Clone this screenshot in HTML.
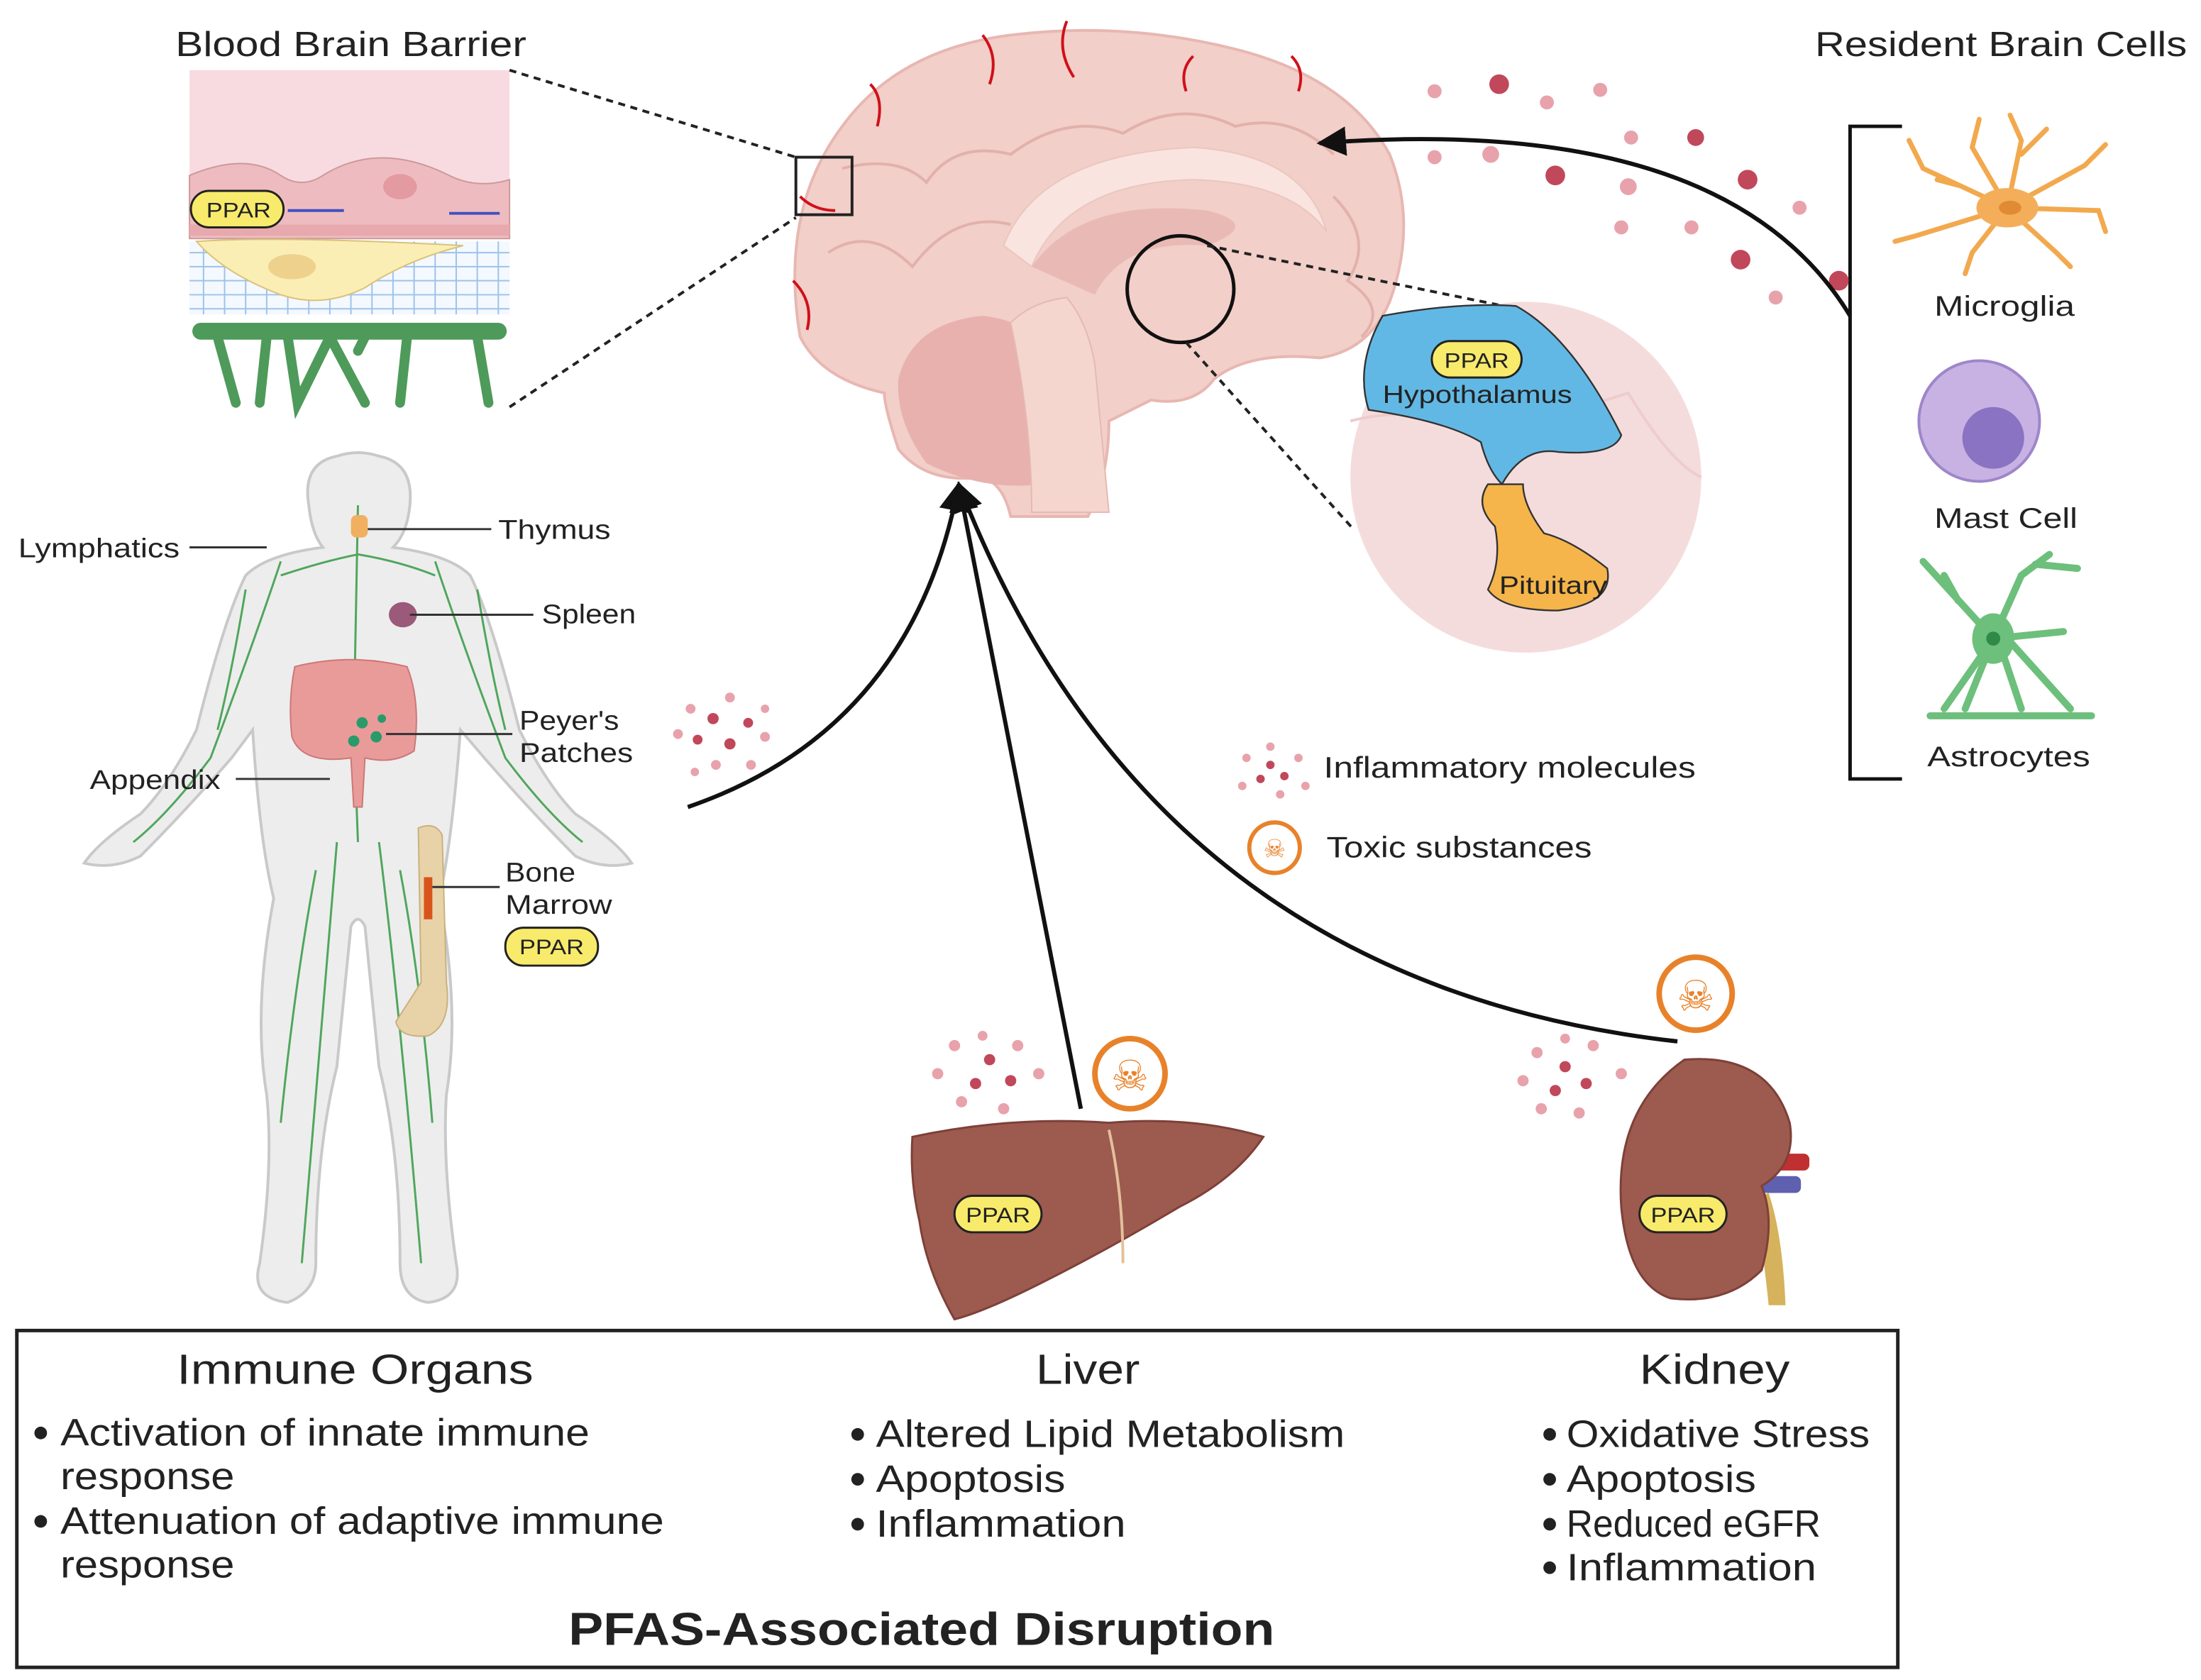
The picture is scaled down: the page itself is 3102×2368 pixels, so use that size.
<!DOCTYPE html>
<html><head><meta charset="utf-8"><style>
html,body{margin:0;padding:0;background:#fff}
svg{display:block}
text{font-family:"Liberation Sans",sans-serif;fill:#222}
</style></head><body>
<svg width="3102" height="2368" viewBox="0 0 1568 1197" preserveAspectRatio="none" xmlns="http://www.w3.org/2000/svg">
<defs>
<marker id="ah" viewBox="0 0 10 10" refX="9" refY="5" markerWidth="7" markerHeight="7" orient="auto"><path d="M0,0 L10,5 L0,10 z" fill="#111"/></marker>
</defs>

<!-- BBB -->
<text x="125" y="40" font-size="25" textLength="250" lengthAdjust="spacingAndGlyphs">Blood Brain Barrier</text>
<rect x="135" y="50" width="228" height="120" fill="#f8dbe1"/>
<path d="M135,170 L135,125 Q175,108 200,125 Q215,135 230,125 Q270,100 320,125 Q340,135 363,128 L363,170 Z" fill="#eebcc0" stroke="#c99" stroke-width="1"/>
<ellipse cx="285" cy="133" rx="12" ry="9" fill="#e39aa0"/>
<rect x="135" y="160" width="228" height="8" fill="#e7a9ad"/>
<rect x="135" y="172" width="228" height="52" fill="#f4f8ff"/>
<g stroke="#9cc3ea" stroke-width="1">
<path d="M135,180H363M135,190H363M135,200H363M135,210H363M135,220H363"/>
<path d="M145,172V224M160,172V224M175,172V224M190,172V224M205,172V224M220,172V224M235,172V224M250,172V224M265,172V224M280,172V224M295,172V224M310,172V224M325,172V224M340,172V224M355,172V224"/>
</g>
<path d="M140,172 Q200,168 330,175 Q290,185 260,205 Q230,220 200,210 Q160,195 140,172Z" fill="#fbeeb5" stroke="#d9c27a"/>
<ellipse cx="208" cy="190" rx="17" ry="9" fill="#efd18e"/>
<rect x="136" y="136" width="66" height="26" rx="13" fill="#f8eb6c" stroke="#222" stroke-width="1.5"/>
<text x="147" y="155" font-size="15" textLength="46" lengthAdjust="spacingAndGlyphs">PPAR</text>
<g stroke="#4050c0" stroke-width="2"><path d="M205,150H245M320,152H356"/></g>
<g fill="#4e9a5a"><rect x="137" y="230" width="224" height="12" rx="6"/></g>
<g stroke="#4e9a5a" stroke-width="7" fill="none" stroke-linecap="round">
<path d="M155,240 L168,287"/><path d="M190,240 L185,287"/><path d="M205,240 L212,287 L235,240"/><path d="M235,240 L260,287"/><path d="M290,240 L285,287"/><path d="M340,240 L348,287"/><path d="M260,240 L255,250"/>
</g>
<line x1="363" y1="50" x2="567" y2="112" stroke="#222" stroke-width="2" stroke-dasharray="5,4"/>
<line x1="363" y1="290" x2="567" y2="155" stroke="#222" stroke-width="2" stroke-dasharray="5,4"/>

<!-- Brain -->
<path d="M570,240 Q555,150 600,90 Q640,35 720,25 Q800,15 880,35 Q960,55 990,110 Q1010,160 990,215 Q975,250 940,255 Q890,250 865,270 Q850,290 820,285 L790,300 Q790,340 775,368 L720,368 Q715,345 700,340 Q660,345 640,320 Q630,290 630,280 Q585,270 570,240Z" fill="#f2cfc8" stroke="#e8b7b2" stroke-width="2"/>
<path d="M640,270 Q650,230 700,225 Q745,230 760,270 Q765,320 740,345 Q700,350 660,330 Q638,300 640,270Z" fill="#e8b1ae"/>
<path d="M720,230 Q735,215 760,212 Q775,230 780,260 L790,365 L735,365 Q735,300 720,230Z" fill="#f4d6cf" stroke="#e5b9b3"/>
<path d="M715,175 Q740,110 850,105 Q930,110 945,165 Q920,130 850,128 Q760,130 735,190Z" fill="#f9e4df" stroke="#ebc6bf"/>
<path d="M735,190 Q770,140 860,150 Q900,160 860,175 Q800,170 780,210Z" fill="#e9bab5"/>
<g fill="none" stroke="#e2b1ab" stroke-width="2">
<path d="M600,120 Q640,110 660,130 Q680,100 720,110 Q760,80 800,95 Q840,70 880,90 Q920,80 950,110"/>
<path d="M590,180 Q620,160 650,190 Q680,150 720,160"/>
<path d="M950,140 Q980,170 960,200 Q990,220 970,240"/>
</g>
<g fill="none" stroke="#d0101a" stroke-width="2">
<path d="M700,25 Q712,40 705,60"/><path d="M760,15 Q752,35 765,55"/><path d="M920,40 Q930,50 925,65"/><path d="M850,40 Q840,50 845,65"/><path d="M620,60 Q630,70 625,90"/><path d="M570,140 Q580,150 595,150"/><path d="M565,200 Q580,215 575,235"/>
</g>
<rect x="567" y="112" width="40" height="41" fill="none" stroke="#222" stroke-width="2"/>
<circle cx="841" cy="206" r="38" fill="none" stroke="#111" stroke-width="2.5"/>
<line x1="860" y1="175" x2="1140" y2="232" stroke="#222" stroke-width="2" stroke-dasharray="5,4"/>
<line x1="845" y1="244" x2="965" y2="378" stroke="#222" stroke-width="2" stroke-dasharray="5,4"/>

<!-- hypothalamus inset -->
<circle cx="1087" cy="340" r="125" fill="#f5dcdc"/>
<path d="M962,300 Q1000,290 1050,300 Q1100,300 1160,280 Q1190,330 1212,340" fill="none" stroke="#ecc" stroke-width="2"/>
<path d="M985,225 Q1040,215 1080,218 Q1120,240 1155,310 Q1150,325 1110,322 Q1085,318 1070,345 Q1060,335 1055,315 Q1030,300 975,292 Q965,260 985,225Z" fill="#62b8e4" stroke="#333" stroke-width="1.2"/>
<path d="M1060,345 Q1050,360 1065,375 Q1070,400 1060,420 Q1070,435 1110,435 Q1150,430 1145,405 Q1120,385 1100,380 Q1085,360 1085,345Z" fill="#f5b54a" stroke="#333" stroke-width="1.2"/>
<rect x="1020" y="243" width="64" height="26" rx="13" fill="#f8eb6c" stroke="#222" stroke-width="1.5"/>
<text x="1029" y="262" font-size="15" textLength="46" lengthAdjust="spacingAndGlyphs">PPAR</text>
<text x="985" y="287" font-size="18" textLength="135" lengthAdjust="spacingAndGlyphs">Hypothalamus</text>
<text x="1068" y="423" font-size="18" textLength="77" lengthAdjust="spacingAndGlyphs">Pituitary</text>

<!-- Resident Brain Cells -->
<text x="1293" y="40" font-size="25" textLength="265" lengthAdjust="spacingAndGlyphs">Resident Brain Cells</text>
<path d="M1355,90 H1318 V555 H1355" fill="none" stroke="#111" stroke-width="2.5"/>
<g stroke="#f2a94e" stroke-width="3.5" fill="none" stroke-linecap="round">
<path d="M1430,148 L1370,120 L1360,100 M1395,132 L1380,128 M1430,148 L1405,105 L1410,85 M1430,148 L1440,100 L1432,82 M1440,110 L1458,92 M1430,148 L1485,118 L1500,103 M1430,148 L1495,150 L1500,165 M1430,148 L1465,180 L1475,190 M1430,148 L1405,180 L1400,195 M1430,148 L1365,168 L1350,172"/>
</g>
<ellipse cx="1430" cy="148" rx="22" ry="14" fill="#f4ae5a"/>
<ellipse cx="1432" cy="148" rx="8" ry="5" fill="#e08a35"/>
<text x="1378" y="225" font-size="20" textLength="100" lengthAdjust="spacingAndGlyphs">Microglia</text>
<circle cx="1410" cy="300" r="43" fill="#c8b2e3" stroke="#9e86c9" stroke-width="2"/>
<circle cx="1420" cy="312" r="22" fill="#8a73c2"/>
<text x="1378" y="376" font-size="20" textLength="102" lengthAdjust="spacingAndGlyphs">Mast Cell</text>
<g stroke="#6dbf7c" stroke-width="5" fill="none" stroke-linecap="round">
<path d="M1420,455 L1370,400 M1395,428 L1385,410 M1420,455 L1440,410 L1460,395 M1450,402 L1480,405 M1420,455 L1385,505 M1420,455 L1400,505 M1425,460 L1440,505 M1430,455 L1475,505 M1420,455 L1470,450"/>
<path d="M1375,510 H1490" stroke-width="5"/>
</g>
<ellipse cx="1420" cy="455" rx="15" ry="18" fill="#6dbf7c"/>
<circle cx="1420" cy="455" r="5" fill="#2f8a49"/>
<text x="1373" y="546" font-size="20" textLength="116" lengthAdjust="spacingAndGlyphs">Astrocytes</text>

<!-- dots trail -->
<g fill="#c0485a">
<circle cx="1068" cy="60" r="7"/><circle cx="1108" cy="125" r="7"/><circle cx="1245" cy="128" r="7"/><circle cx="1240" cy="185" r="7"/><circle cx="1208" cy="98" r="6"/><circle cx="1310" cy="200" r="7"/>
</g>
<g fill="#e8a2ab">
<circle cx="1022" cy="65" r="5"/><circle cx="1102" cy="73" r="5"/><circle cx="1140" cy="64" r="5"/><circle cx="1062" cy="110" r="6"/><circle cx="1160" cy="133" r="6"/><circle cx="1162" cy="98" r="5"/><circle cx="1022" cy="112" r="5"/><circle cx="1205" cy="162" r="5"/><circle cx="1265" cy="212" r="5"/><circle cx="1282" cy="148" r="5"/><circle cx="1155" cy="162" r="5"/>
</g>
<path d="M1318,225 Q1230,80 940,102" fill="none" stroke="#111" stroke-width="3" marker-end="url(#ah)"/>

<!-- Body -->
<path d="M240,325 Q215,330 220,360 Q222,380 230,390 Q190,395 175,410 Q160,440 140,520 Q120,560 100,580 Q70,600 60,615 Q80,620 100,610 Q130,580 165,540 L180,520 Q185,600 195,640 Q180,720 190,780 Q195,830 185,900 Q178,925 205,928 Q225,920 225,900 Q225,820 240,760 L250,660 Q255,650 260,660 L270,760 Q285,820 285,900 Q285,925 305,928 Q330,925 325,900 Q315,830 318,780 Q328,720 313,640 Q322,600 328,520 L345,540 Q380,580 410,610 Q430,620 450,615 Q440,600 410,580 Q390,560 370,520 Q350,440 335,410 Q320,395 280,390 Q290,380 292,360 Q295,330 270,325 Q255,320 240,325Z" fill="#ededed" stroke="#c9c9c9" stroke-width="2"/>
<g fill="none" stroke="#3f9f4d" stroke-width="1.5" opacity="0.9">
<path d="M255,360 L252,520 L255,600"/><path d="M200,400 Q180,460 150,540 Q120,580 95,600"/><path d="M310,400 Q330,460 360,540 Q390,580 415,600"/><path d="M240,600 Q230,720 215,900"/><path d="M270,600 Q285,720 300,900"/><path d="M200,410 Q230,400 255,395 Q285,400 310,410"/><path d="M225,620 Q210,700 200,800"/><path d="M285,620 Q300,700 308,800"/><path d="M175,420 Q165,480 155,520"/><path d="M340,420 Q350,480 360,520"/>
</g>
<rect x="250" y="367" width="12" height="16" rx="4" fill="#f0b060"/>
<ellipse cx="287" cy="438" rx="10" ry="9" fill="#9b5a7a"/>
<path d="M210,475 Q250,465 290,475 Q300,500 295,535 Q280,545 260,540 L258,575 L252,575 L250,540 Q215,545 208,525 Q205,500 210,475Z" fill="#e99b9a" stroke="#c77" stroke-width="1"/>
<g fill="#2a9a6a"><circle cx="258" cy="515" r="4"/><circle cx="268" cy="525" r="4"/><circle cx="252" cy="528" r="4"/><circle cx="272" cy="512" r="3"/></g>
<path d="M298,590 Q310,585 315,595 L318,700 Q322,730 305,738 Q285,740 282,728 L300,700 Z" fill="#e8d3a8" stroke="#c9b07e"/>
<rect x="302" y="625" width="6" height="30" fill="#d9541c"/>
<g stroke="#333" stroke-width="1.5">
<line x1="135" y1="390" x2="190" y2="390"/><line x1="262" y1="377" x2="350" y2="377"/><line x1="292" y1="438" x2="380" y2="438"/><line x1="275" y1="523" x2="365" y2="523"/><line x1="168" y1="555" x2="235" y2="555"/><line x1="308" y1="632" x2="356" y2="632"/>
</g>
<g font-size="19">
<text x="13" y="397" textLength="115" lengthAdjust="spacingAndGlyphs">Lymphatics</text>
<text x="355" y="384" textLength="80" lengthAdjust="spacingAndGlyphs">Thymus</text>
<text x="386" y="444" textLength="67" lengthAdjust="spacingAndGlyphs">Spleen</text>
<text x="370" y="520" textLength="71" lengthAdjust="spacingAndGlyphs">Peyer's</text>
<text x="370" y="543" textLength="81" lengthAdjust="spacingAndGlyphs">Patches</text>
<text x="64" y="562" textLength="93" lengthAdjust="spacingAndGlyphs">Appendix</text>
<text x="360" y="628" textLength="50" lengthAdjust="spacingAndGlyphs">Bone</text>
<text x="360" y="651" textLength="76" lengthAdjust="spacingAndGlyphs">Marrow</text>
</g>
<rect x="360" y="661" width="66" height="27" rx="13" fill="#f8eb6c" stroke="#222" stroke-width="1.5"/>
<text x="370" y="680" font-size="15" textLength="46" lengthAdjust="spacingAndGlyphs">PPAR</text>

<!-- dots near body arrow -->
<g fill="#c0485a"><circle cx="508" cy="512" r="4"/><circle cx="520" cy="530" r="4"/><circle cx="497" cy="527" r="3.5"/><circle cx="533" cy="515" r="3.5"/></g>
<g fill="#e8a2ab"><circle cx="492" cy="505" r="3.5"/><circle cx="520" cy="497" r="3.5"/><circle cx="545" cy="525" r="3.5"/><circle cx="483" cy="523" r="3.5"/><circle cx="510" cy="545" r="3.5"/><circle cx="535" cy="545" r="3.5"/><circle cx="495" cy="550" r="3"/><circle cx="545" cy="505" r="3"/></g>

<!-- Arrows to brain -->
<path d="M490,575 Q650,520 683,345" fill="none" stroke="#111" stroke-width="3" marker-end="url(#ah)"/>
<path d="M770,790 L683,345" fill="none" stroke="#111" stroke-width="3" marker-end="url(#ah)"/>
<path d="M1195,742 Q820,700 683,345" fill="none" stroke="#111" stroke-width="3" marker-end="url(#ah)"/>

<!-- Legend -->
<g fill="#c0485a"><circle cx="905" cy="545" r="3"/><circle cx="915" cy="553" r="3"/><circle cx="898" cy="555" r="3"/></g>
<g fill="#e8a2ab"><circle cx="888" cy="540" r="3"/><circle cx="925" cy="540" r="3"/><circle cx="885" cy="560" r="3"/><circle cx="930" cy="560" r="3"/><circle cx="905" cy="532" r="3"/><circle cx="912" cy="566" r="3"/></g>
<text x="943" y="554" font-size="21" textLength="265" lengthAdjust="spacingAndGlyphs">Inflammatory molecules</text>
<circle cx="908" cy="604" r="18" fill="#fff" stroke="#e8822a" stroke-width="3"/>
<text x="908" y="611" font-size="18" text-anchor="middle" style="fill:#e8822a">☠</text>
<text x="945" y="611" font-size="21" textLength="189" lengthAdjust="spacingAndGlyphs">Toxic substances</text>

<!-- Liver -->
<g fill="#c0485a"><circle cx="705" cy="755" r="4"/><circle cx="720" cy="770" r="4"/><circle cx="695" cy="772" r="4"/></g>
<g fill="#e8a2ab"><circle cx="680" cy="745" r="4"/><circle cx="725" cy="745" r="4"/><circle cx="668" cy="765" r="4"/><circle cx="740" cy="765" r="4"/><circle cx="685" cy="785" r="4"/><circle cx="715" cy="790" r="4"/><circle cx="700" cy="738" r="3.5"/></g>
<circle cx="805" cy="765" r="25" fill="#fff" stroke="#e8822a" stroke-width="4"/>
<text x="805" y="777" font-size="30" text-anchor="middle" style="fill:#e8822a">☠</text>
<path d="M650,810 Q720,795 790,800 Q850,795 900,810 Q880,840 840,860 Q790,890 740,915 Q700,935 680,940 Q660,905 655,870 Q648,840 650,810Z" fill="#9d5a4f" stroke="#7d4038" stroke-width="1.5"/>
<path d="M790,805 Q800,850 800,900" fill="none" stroke="#e3c09a" stroke-width="2"/>
<rect x="680" y="852" width="62" height="26" rx="13" fill="#f8eb6c" stroke="#222" stroke-width="1.5"/>
<text x="688" y="871" font-size="15" textLength="46" lengthAdjust="spacingAndGlyphs">PPAR</text>

<!-- Kidney -->
<g fill="#c0485a"><circle cx="1115" cy="760" r="4"/><circle cx="1130" cy="772" r="4"/><circle cx="1108" cy="777" r="4"/></g>
<g fill="#e8a2ab"><circle cx="1095" cy="750" r="4"/><circle cx="1135" cy="745" r="4"/><circle cx="1085" cy="770" r="4"/><circle cx="1155" cy="765" r="4"/><circle cx="1098" cy="790" r="4"/><circle cx="1125" cy="793" r="4"/><circle cx="1115" cy="740" r="3.5"/></g>
<circle cx="1208" cy="708" r="26" fill="#fff" stroke="#e8822a" stroke-width="4"/>
<text x="1208" y="720" font-size="30" text-anchor="middle" style="fill:#e8822a">☠</text>
<rect x="1263" y="822" width="26" height="12" rx="4" fill="#c03030"/>
<rect x="1255" y="838" width="28" height="12" rx="4" fill="#6060b0"/>
<path d="M1260,850 Q1270,880 1272,930 L1260,930 Q1255,880 1248,855Z" fill="#d6b25c"/>
<path d="M1200,755 Q1260,750 1275,800 Q1280,830 1255,845 Q1265,870 1255,905 Q1230,930 1190,925 Q1160,915 1155,860 Q1150,790 1200,755Z" fill="#9d5a4f" stroke="#7d4038" stroke-width="1.5"/>
<rect x="1168" y="852" width="62" height="26" rx="13" fill="#f8eb6c" stroke="#222" stroke-width="1.5"/>
<text x="1176" y="871" font-size="15" textLength="46" lengthAdjust="spacingAndGlyphs">PPAR</text>

<!-- Bottom box -->
<rect x="12" y="948" width="1340" height="240" fill="#fff" stroke="#222" stroke-width="2.5"/>
<g font-size="30">
<text x="126" y="986" textLength="254" lengthAdjust="spacingAndGlyphs">Immune Organs</text>
<text x="738" y="986" textLength="74" lengthAdjust="spacingAndGlyphs">Liver</text>
<text x="1168" y="986" textLength="107" lengthAdjust="spacingAndGlyphs">Kidney</text>
</g>
<g fill="#222"><circle cx="29" cy="1021" r="4.5"/><circle cx="29" cy="1084" r="4.5"/>
<circle cx="611" cy="1022" r="4.5"/><circle cx="611" cy="1054" r="4.5"/><circle cx="611" cy="1086" r="4.5"/>
<circle cx="1104" cy="1022" r="4.5"/><circle cx="1104" cy="1054" r="4.5"/><circle cx="1104" cy="1086" r="4.5"/><circle cx="1104" cy="1117" r="4.5"/></g>
<g font-size="27">
<text x="43" y="1030" textLength="377" lengthAdjust="spacingAndGlyphs">Activation of innate immune</text>
<text x="43" y="1061" textLength="124" lengthAdjust="spacingAndGlyphs">response</text>
<text x="43" y="1093" textLength="430" lengthAdjust="spacingAndGlyphs">Attenuation of adaptive immune</text>
<text x="43" y="1124" textLength="124" lengthAdjust="spacingAndGlyphs">response</text>
<text x="624" y="1031" textLength="334" lengthAdjust="spacingAndGlyphs">Altered Lipid Metabolism</text>
<text x="624" y="1063" textLength="135" lengthAdjust="spacingAndGlyphs">Apoptosis</text>
<text x="624" y="1095" textLength="178" lengthAdjust="spacingAndGlyphs">Inflammation</text>
<text x="1116" y="1031" textLength="216" lengthAdjust="spacingAndGlyphs">Oxidative Stress</text>
<text x="1116" y="1063" textLength="135" lengthAdjust="spacingAndGlyphs">Apoptosis</text>
<text x="1116" y="1095" textLength="181" lengthAdjust="spacingAndGlyphs">Reduced eGFR</text>
<text x="1116" y="1126" textLength="178" lengthAdjust="spacingAndGlyphs">Inflammation</text>
</g>
<text x="405" y="1172" font-size="33" font-weight="bold" textLength="503" lengthAdjust="spacingAndGlyphs">PFAS-Associated Disruption</text>
</svg>
</body></html>
